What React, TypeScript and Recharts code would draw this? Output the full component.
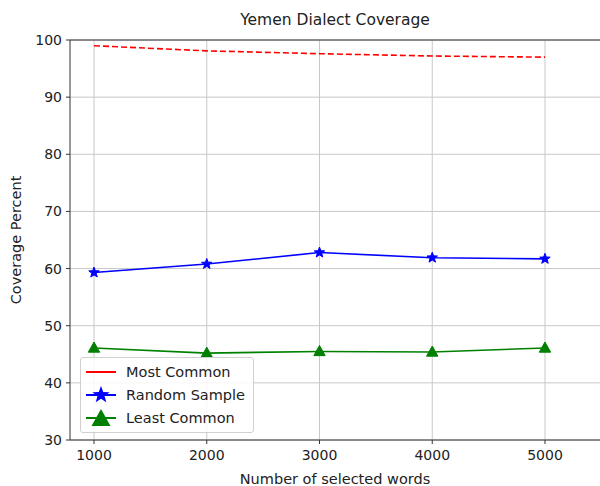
import React from "react";
import { LineChart, Line, XAxis, YAxis, CartesianGrid, ReferenceLine } from "recharts";

const WORDS = [1000, 2000, 3000, 4000, 5000];
const MOST_COMMON = [99.0, 98.1, 97.6, 97.2, 97.0];
const RANDOM_SAMPLE = [59.3, 60.8, 62.8, 61.9, 61.7];
const LEAST_COMMON = [46.1, 45.2, 45.5, 45.4, 46.1];
const X_TICKS = [1000, 2000, 3000, 4000, 5000];
const Y_TICKS = [30, 40, 50, 60, 70, 80, 90, 100];

const data = WORDS.map((w, i) => ({
  words: w,
  most: MOST_COMMON[i],
  random: RANDOM_SAMPLE[i],
  least: LEAST_COMMON[i],
}));

const FONT = "DejaVu Sans, sans-serif";

function starPoints(cx: number, cy: number, r: number) {
  const pts: string[] = [];
  for (let i = 0; i < 10; i++) {
    const rad = i % 2 === 0 ? r : r * 0.42;
    const a = (Math.PI / 5) * i - Math.PI / 2;
    pts.push(`${cx + rad * Math.cos(a)},${cy + rad * Math.sin(a)}`);
  }
  return pts.join(" ");
}

function triPoints(cx: number, cy: number, r: number) {
  return `${cx},${cy - r} ${cx - r * 0.95},${cy + r * 0.7} ${cx + r * 0.95},${cy + r * 0.7}`;
}

const StarDot = (props: any) => {
  const { cx, cy, key } = props;
  if (cx == null || cy == null) return null;
  return <polygon key={key} points={starPoints(cx, cy, 5.5)} fill="blue" stroke="blue" />;
};

const TriDot = (props: any) => {
  const { cx, cy, key } = props;
  if (cx == null || cy == null) return null;
  return <polygon key={key} points={triPoints(cx, cy, 6)} fill="green" stroke="green" />;
};

const LEGEND = [
  { label: "Most Common", color: "red", mark: null },
  { label: "Random Sample", color: "blue", mark: "star" },
  { label: "Least Common", color: "green", mark: "tri" },
];

const LegendBox = () => (
  <div
    style={{
      position: "absolute",
      left: 80,
      top: 357,
      border: "1px solid #d0d0d0",
      borderRadius: 3,
      background: "rgba(255,255,255,0.85)",
      padding: "2px 8px 3px 3px",
      fontFamily: FONT,
      fontSize: 14.5,
      color: "#222",
      lineHeight: "22px",
    }}
  >
    {LEGEND.map((e) => (
      <div key={e.label} style={{ display: "flex", alignItems: "center", height: 23 }}>
        <svg width={34} height={22} style={{ marginRight: 8 }}>
          <line x1={2} y1={11} x2={32} y2={11} stroke={e.color} strokeWidth={2} />
          {e.mark === "star" && <polygon points={starPoints(17, 11, 9)} fill={e.color} />}
          {e.mark === "tri" && <polygon points={triPoints(17, 12, 10)} fill={e.color} />}
        </svg>
        <span>{e.label}</span>
      </div>
    ))}
  </div>
);

export default function App() {
  return (
    <div style={{ position: "absolute", left: 0, top: 0, width: 600, height: 486, background: "#fff" }}>
      <div
        style={{
          position: "absolute",
          top: 11,
          left: 70,
          width: 530,
          textAlign: "center",
          fontFamily: FONT,
          fontSize: 15.5,
          color: "#222",
        }}
      >
        Yemen Dialect Coverage
      </div>
      <LineChart width={600} height={486} data={data} margin={{ top: 40, right: 0, left: 10, bottom: 0 }}>
        <CartesianGrid stroke="#c8c8c8" strokeWidth={1} horizontalValues={Y_TICKS} verticalValues={X_TICKS} />
        <XAxis
          dataKey="words"
          type="number"
          domain={[787, 5488]}
          ticks={X_TICKS}
          allowDataOverflow
          height={46}
          stroke="#333"
          tickSize={4}
          tickMargin={6}
          tick={{ fill: "#222", fontSize: 14, fontFamily: FONT }}
          label={{ value: "Number of selected words", position: "insideBottom", offset: 2, fill: "#222", fontSize: 14.5, fontFamily: FONT }}
        />
        <YAxis
          type="number"
          domain={[30, 100]}
          ticks={Y_TICKS}
          width={60}
          stroke="#333"
          tickSize={4}
          tickMargin={4}
          tick={{ fill: "#222", fontSize: 14, fontFamily: FONT }}
          label={{ value: "Coverage Percent", angle: -90, position: "insideLeft", offset: 6, fill: "#222", fontSize: 14.5, fontFamily: FONT, style: { textAnchor: "middle" } }}
        />
        <ReferenceLine y={100} stroke="#333" strokeWidth={1} />
        <Line dataKey="most" stroke="red" strokeWidth={1.6} strokeDasharray="6 3" dot={false} isAnimationActive={false} />
        <Line dataKey="random" stroke="blue" strokeWidth={1.6} dot={<StarDot />} isAnimationActive={false} />
        <Line dataKey="least" stroke="green" strokeWidth={1.6} dot={<TriDot />} isAnimationActive={false} />
      </LineChart>
      <LegendBox />
    </div>
  );
}
